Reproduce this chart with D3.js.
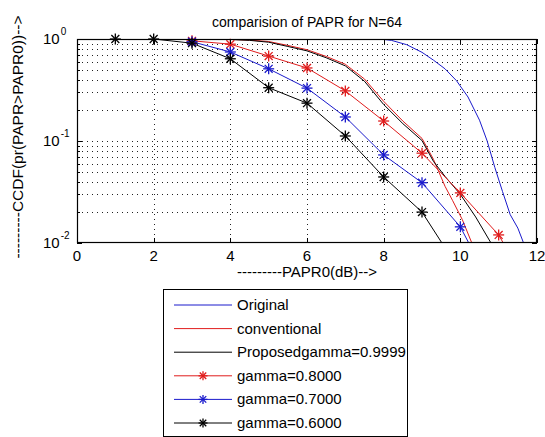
<!DOCTYPE html>
<html>
<head>
<meta charset="utf-8">
<script src="https://cdn.jsdelivr.net/npm/d3@7"></script>
<style>
html,body{margin:0;padding:0;background:#fff;}
svg{display:block;}
text{font-family:"Liberation Sans",Arial,Helvetica,sans-serif;fill:#000;}
</style>
</head>
<body>
<svg id="chart" width="545" height="437"></svg>
<script>
// ---- data ----
const xTicks = [0, 2, 4, 6, 8, 10, 12];
const yTicks = [1, 0.1, 0.01];
const yTickExp = ["0", "-1", "-2"];

const originalX = [7.9, 8.2, 8.6, 9.0, 9.3, 9.6, 9.9, 10.2, 10.5, 10.7, 10.9, 11.1, 11.3, 11.5, 11.65];
const originalY = [1.0, 0.97, 0.88, 0.74, 0.62, 0.51, 0.39, 0.27, 0.16, 0.10, 0.055, 0.032, 0.019, 0.014, 0.01];

const conventionalX = [3, 4, 4.5, 5, 5.5, 6, 6.5, 7, 7.5, 8, 8.5, 9, 9.3, 9.6, 9.8, 10.05, 10.3];
const conventionalY = [1.0, 0.99, 0.975, 0.945, 0.865, 0.785, 0.675, 0.565, 0.405, 0.245, 0.157, 0.106, 0.066, 0.036, 0.026, 0.017, 0.01];

const proposedX = [3, 4, 4.5, 5, 5.5, 6, 6.5, 7, 7.5, 8, 8.5, 9, 9.3, 9.6, 10, 10.4, 10.8];
const proposedY = [1.0, 0.99, 0.97, 0.93, 0.845, 0.765, 0.655, 0.545, 0.385, 0.228, 0.148, 0.101, 0.063, 0.045, 0.030, 0.018, 0.01];

const g08X = [3, 4, 5, 6, 7, 8, 9, 10, 11, 11.12];
const g08Y = [0.96, 0.89, 0.68, 0.52, 0.31, 0.157, 0.076, 0.031, 0.012, 0.01];

const g07X = [3, 4, 5, 6, 7, 8, 9, 10, 10.22];
const g07Y = [0.94, 0.746, 0.51, 0.33, 0.172, 0.073, 0.039, 0.0144, 0.01];

const g06X = [1, 2, 3, 4, 5, 6, 7, 8, 9, 9.52];
const g06Y = [1.0, 1.0, 0.91, 0.64, 0.333, 0.235, 0.112, 0.0444, 0.0201, 0.01];

const seriesNames = ["Original", "conventional", "Proposedgamma=0.9999", "gamma=0.8000", "gamma=0.7000", "gamma=0.6000"];
const seriesColors = ["#1a1acc", "#e01c1c", "#000000", "#e01c1c", "#1a1acc", "#000000"];
const seriesMarkers = [false, false, false, true, true, true];

const titleText = "comparision of PAPR for N=64";
const xLabelText = "---------PAPR0(dB)-->";
const yLabelText = "---------CCDF(pr(PAPR>PAPR0))-->";

// ---- layout ----
const L = 77, R = 537, T = 39, B = 243;
const svg = d3.select("#chart");
const x = d3.scaleLinear().domain([0, 12]).range([L, R]);
const y = d3.scaleLog().domain([0.01, 1]).range([B, T]);

const minorVals = [];
[0.01, 0.1].forEach(d => { for (let k = 2; k <= 9; k++) minorVals.push(+(d * k).toPrecision(3)); });

// clip
svg.append("defs").append("clipPath").attr("id", "clip")
  .append("rect").attr("x", L).attr("y", T).attr("width", R - L).attr("height", B - T);

// grid
const grid = svg.append("g").attr("stroke", "#222").attr("stroke-width", 1)
  .attr("stroke-dasharray", "1,4").attr("shape-rendering", "crispEdges");
grid.selectAll("line.hy").data(minorVals.concat([0.1])).join("line")
  .attr("x1", L).attr("x2", R)
  .attr("y1", d => Math.round(y(d)) + 0.5).attr("y2", d => Math.round(y(d)) + 0.5);
grid.selectAll("line.vx").data(xTicks.slice(1, -1)).join("line")
  .attr("y1", T).attr("y2", B)
  .attr("x1", d => Math.round(x(d)) + 0.5).attr("x2", d => Math.round(x(d)) + 0.5);

// series
const allX = [originalX, conventionalX, proposedX, g08X, g07X, g06X];
const allY = [originalY, conventionalY, proposedY, g08Y, g07Y, g06Y];
const line = d3.line().x(d => x(d[0])).y(d => y(d[1]));
const plot = svg.append("g").attr("clip-path", "url(#clip)");

function star(g, cx, cy, color, r) {
  const s = g.append("g").attr("stroke", color).attr("stroke-width", 1.3);
  s.append("line").attr("x1", cx - r).attr("x2", cx + r).attr("y1", cy).attr("y2", cy);
  s.append("line").attr("x1", cx).attr("x2", cx).attr("y1", cy - r).attr("y2", cy + r);
  const q = r * 0.72;
  s.append("line").attr("x1", cx - q).attr("x2", cx + q).attr("y1", cy - q).attr("y2", cy + q);
  s.append("line").attr("x1", cx - q).attr("x2", cx + q).attr("y1", cy + q).attr("y2", cy - q);
}

const markerLayer = svg.append("g");
allX.forEach((xs, i) => {
  const pts = xs.map((v, j) => [v, allY[i][j]]);
  plot.append("path").datum(pts).attr("d", line)
    .attr("fill", "none").attr("stroke", seriesColors[i]).attr("stroke-width", 1);
  if (seriesMarkers[i]) {
    pts.filter(p => Number.isInteger(p[0]) && p[1] >= 0.01).forEach(p => star(markerLayer, x(p[0]), y(p[1]), seriesColors[i], 5.5));
  }
});

// axes box
svg.append("rect").attr("x", L + 0.5).attr("y", T + 0.5).attr("width", R - L - 1).attr("height", B - T - 1)
  .attr("fill", "none").attr("stroke", "#000").attr("stroke-width", 1.2);

const ticks = svg.append("g").attr("stroke", "#000").attr("stroke-width", 1);
xTicks.forEach(v => {
  const px = Math.round(x(v)) + 0.5;
  ticks.append("line").attr("x1", px).attr("x2", px).attr("y1", B).attr("y2", B - 5);
  ticks.append("line").attr("x1", px).attr("x2", px).attr("y1", T).attr("y2", T + 5);
});
minorVals.forEach(v => {
  const py = Math.round(y(v)) + 0.5;
  ticks.append("line").attr("x1", L).attr("x2", L + 3).attr("y1", py).attr("y2", py);
  ticks.append("line").attr("x1", R).attr("x2", R - 3).attr("y1", py).attr("y2", py);
});
yTicks.forEach(v => {
  const py = Math.round(y(v)) + 0.5;
  ticks.append("line").attr("x1", L).attr("x2", L + 5).attr("y1", py).attr("y2", py);
  ticks.append("line").attr("x1", R).attr("x2", R - 5).attr("y1", py).attr("y2", py);
});

// x tick labels
svg.append("g").selectAll("text").data(xTicks).join("text")
  .attr("x", d => x(d)).attr("y", B + 18).attr("text-anchor", "middle")
  .attr("font-size", 15).text(d => d);

// y tick labels
yTicks.forEach((v, i) => {
  const t = svg.append("text").attr("x", 43).attr("y", y(v) + 5).attr("font-size", 15);
  t.append("tspan").text("10");
  t.append("tspan").attr("font-size", 10).attr("dy", -9).attr("dx", 1).text(yTickExp[i]);
});

// title & labels
svg.append("text").attr("x", (L + R) / 2).attr("y", 27).attr("text-anchor", "middle")
  .attr("font-size", 14).text(titleText);
svg.append("text").attr("x", (L + R) / 2).attr("y", 277).attr("text-anchor", "middle")
  .attr("font-size", 15).text(xLabelText);
svg.append("text").attr("transform", `translate(23,${(T + B) / 2 - 4}) rotate(-90)`)
  .attr("text-anchor", "middle").attr("font-size", 15.5).text(yLabelText);

// legend
const lg = svg.append("g");
lg.append("rect").attr("x", 163.5).attr("y", 289.5).attr("width", 244).attr("height", 147)
  .attr("fill", "#fff").attr("stroke", "#000").attr("stroke-width", 1);
seriesNames.forEach((name, i) => {
  const ly = 305 + i * 23.6;
  lg.append("line").attr("x1", 174).attr("x2", 232).attr("y1", ly).attr("y2", ly)
    .attr("stroke", seriesColors[i]).attr("stroke-width", 1);
  if (seriesMarkers[i]) star(lg, 203, ly, seriesColors[i], 4.5);
  lg.append("text").attr("x", 237).attr("y", ly + 5).attr("font-size", 15).text(name);
});
</script>
</body>
</html>
